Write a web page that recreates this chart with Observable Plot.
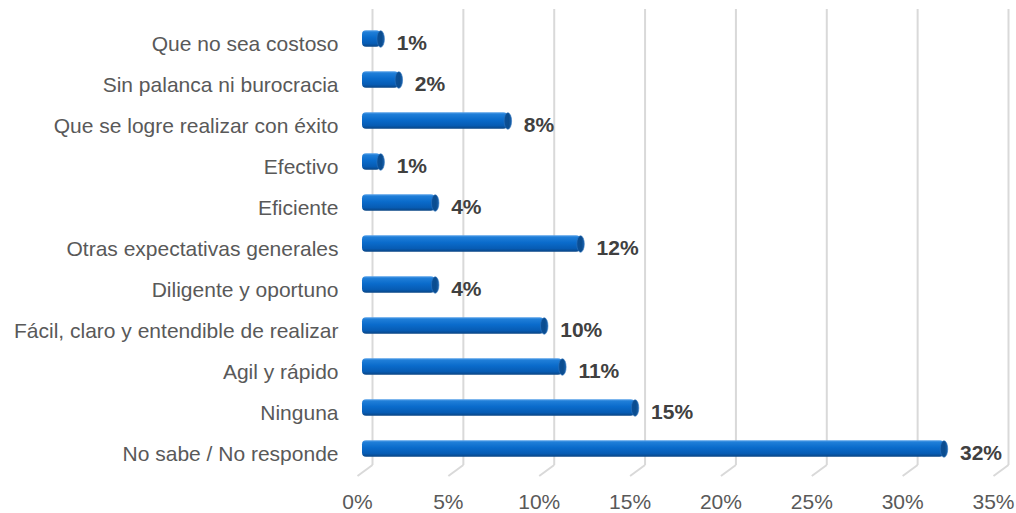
<!DOCTYPE html>
<html>
<head>
<meta charset="utf-8">
<script src="https://cdn.jsdelivr.net/npm/d3@7"></script>
<script src="https://cdn.jsdelivr.net/npm/@observablehq/plot@0.6"></script>
<style>
  html, body { margin: 0; padding: 0; background: #fff; }
</style>
</head>
<body>
<div id="chart"></div>
<script>
const categories = [
  "Que no sea costoso",
  "Sin palanca ni burocracia",
  "Que se logre realizar con éxito",
  "Efectivo",
  "Eficiente",
  "Otras expectativas generales",
  "Diligente y oportuno",
  "Fácil, claro y entendible de realizar",
  "Agil y rápido",
  "Ninguna",
  "No sabe / No responde"
];
const values = [1, 2, 8, 1, 4, 12, 4, 10, 11, 15, 32];
const xTicks = [0, 5, 10, 15, 20, 25, 30, 35];
const xTickLabels = ["0%", "5%", "10%", "15%", "20%", "25%", "30%", "35%"];

const data = categories.map((c, i) => ({category: c, value: values[i]}));
const font = "'Liberation Sans', Arial, sans-serif";

const plot = Plot.plot({
  width: 1016,
  height: 513,
  marginLeft: 362,
  marginRight: 18,
  marginTop: 15,
  marginBottom: 41,
  style: {fontFamily: font, background: "#fff"},
  x: {domain: [0, 35], axis: null},
  y: {domain: categories, padding: 0, axis: null},
  marks: [
    // back-wall gridlines with floor slant
    Plot.ruleX(xTicks, {
      x: d => d,
      stroke: "#d9d9d9",
      strokeWidth: 2,
      dx: 10,
      insetTop: -6,
      insetBottom: 7,
      render: (index, scales, vals, dims, ctx, next) => {
        const g = next(index, scales, vals, dims, ctx);
        const sel = d3.select(g);
        const lines = sel.selectAll("line").nodes();
        lines.forEach(l => {
          const x = +l.getAttribute("x1");
          const y2 = +l.getAttribute("y2");
          const s = sel.append("line")
            .attr("x1", x).attr("y1", y2)
            .attr("x2", x - 15).attr("y2", y2 + 11)
            .attr("stroke", "#d9d9d9")
            .attr("stroke-width", 2);
          const t = l.getAttribute("transform");
          if (t) s.attr("transform", t);
        });
        return g;
      }
    }),
    Plot.barX(data, {
      x: "value",
      y: "category",
      fill: "url(#barGrad)",
      insetTop: 12.25,
      insetBottom: 12.25,
      rx: 4
    }),
    // right-end caps of the cylinders
    Plot.dot(data, {
      x: "value",
      y: "category",
      r: 8.3,
      fill: "url(#capGrad)",
      stroke: "#2f74bd",
      strokeWidth: 0.8,
      render: (index, scales, vals, dims, ctx, next) => {
        const g = next(index, scales, vals, dims, ctx);
        d3.select(g).selectAll("circle").each(function() {
          const cx = +this.getAttribute("cx");
          const cy = +this.getAttribute("cy");
          this.setAttribute("transform", `translate(${cx},${cy}) scale(0.45,1) translate(${-cx},${-cy})`);
        });
        return g;
      }
    }),
    Plot.text(data, {
      x: "value",
      y: "category",
      text: d => d.value + "%",
      dx: 16,
      dy: 4,
      textAnchor: "start",
      fontWeight: "bold",
      fontSize: 21,
      fill: "#404040"
    }),
    Plot.axisY({
      tickSize: 0,
      tickPadding: 24,
      fontSize: 21,
      dy: 5,
      color: "#595959",
      label: null
    }),
    Plot.axisX({
      ticks: xTicks,
      tickFormat: (d) => xTickLabels[xTicks.indexOf(d)],
      tickSize: 0,
      tickPadding: 22,
      dx: -5,
      fontSize: 21,
      color: "#595959",
      label: null
    })
  ]
});

const defs = d3.select(plot).insert("defs", ":first-child");
const bg = defs.append("linearGradient").attr("id", "barGrad")
  .attr("x1", 0).attr("y1", 0).attr("x2", 0).attr("y2", 1);
[["0%", "#5aa3ea"], ["12%", "#1f7ed8"], ["45%", "#0a6bcb"], ["80%", "#075cb4"], ["100%", "#0a4584"]]
  .forEach(([o, c]) => bg.append("stop").attr("offset", o).attr("stop-color", c));
const cg = defs.append("linearGradient").attr("id", "capGrad")
  .attr("x1", 0).attr("y1", 0).attr("x2", 1).attr("y2", 0);
[["0%", "#0a4f98"], ["60%", "#0b4c8e"], ["100%", "#1a62ad"]]
  .forEach(([o, c]) => cg.append("stop").attr("offset", o).attr("stop-color", c));

document.getElementById("chart").appendChild(plot);
</script>
</body>
</html>
